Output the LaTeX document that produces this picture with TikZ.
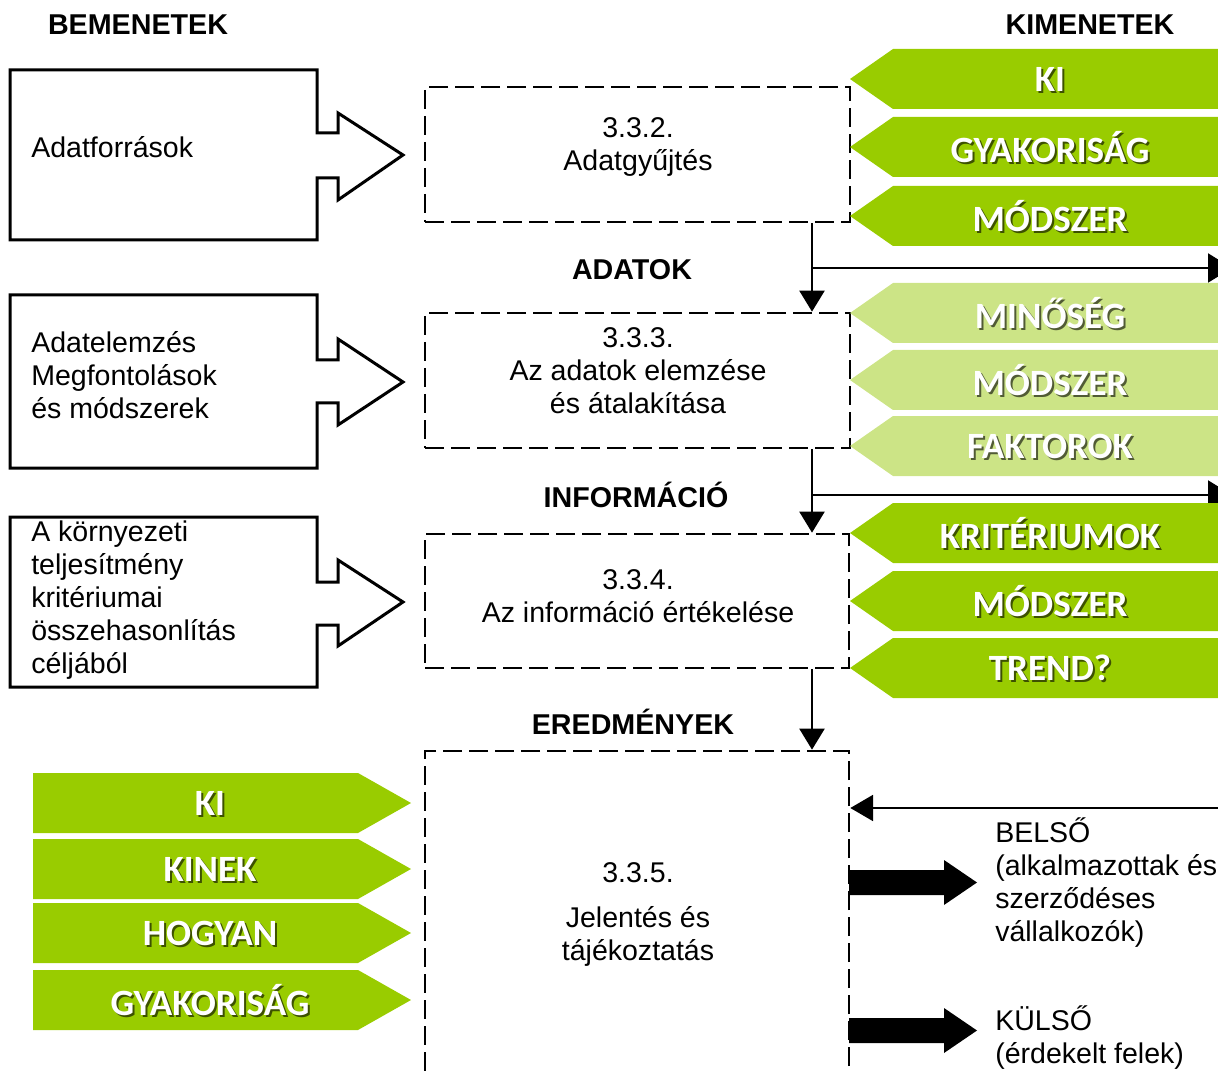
\documentclass[tikz,border=0pt]{standalone}
\usepackage{fontspec}
\setmainfont{Liberation Sans}
\newfontfamily\tagfont{Carlito}
\usetikzlibrary{fit,arrows.meta}
\definecolor{tagdark}{RGB}{153,204,0}
\definecolor{taglight}{RGB}{204,228,134}
\newcommand\rtag[4]{%
  \fill[#3] (850,{#2+30}) -- (893,#2) -- (1240,#2) -- (1240,{#2+60}) -- (893,{#2+60}) -- cycle;
  \node[tagshadow] (#1s) at (1052,{#2+32}) {#4};
  \node[tagtext] (#1) at (1050,{#2+30}) {#4};
}
\newcommand\ltag[3]{%
  \fill[tagdark] (33,#2) -- (358,#2) -- (411,{#2+30}) -- (358,{#2+60}) -- (33,{#2+60}) -- cycle;
  \node[tagshadow] (#1s) at (212,{#2+32}) {#3};
  \node[tagtext] (#1) at (210,{#2+30}) {#3};
}
\begin{document}
\begin{tikzpicture}[x=0.75pt,y=-0.75pt,line join=miter,
  body/.style={font=\fontsize{21.4}{24.75}\selectfont, inner sep=0pt},
  head/.style={font=\bfseries\fontsize{21.5}{25}\selectfont, inner sep=0pt},
  inshape/.style={draw, line width=2.25pt},
  dashbox/.style={draw, line width=2pt, dash pattern=on 14pt off 5.5pt, inner sep=0pt},
  conn/.style={line width=1.7pt, -{Triangle[width=18.75pt,length=15.75pt]}},
  branch/.style={line width=1.6pt, -{Triangle[width=21.75pt,length=18pt]}},
  fback/.style={line width=1.2pt, -{Triangle[width=19.5pt,length=17pt]}},
  tagtext/.style={font=\tagfont\bfseries\fontsize{27.8}{32}\selectfont, text=white, inner sep=0pt},
  tagshadow/.style={font=\tagfont\bfseries\fontsize{27.8}{32}\selectfont, text=black, opacity=0.6, inner sep=0pt}]
\useasboundingbox (0,0) rectangle (1218,1073);

% headings
\node[head] (hin) at (138,25) {BEMENETEK};
\node[head] (hout) at (1090,25) {KIMENETEK};
\node[head] (hadat) at (632,270) {ADATOK};
\node[head] (hinfo) at (636,495) {INFORMÁCIÓ};
\node[head] (hered) at (633,722) {EREDMÉNYEK};

% input shapes
\draw[inshape] (10,70) -- (317,70) -- (317,133) -- (338,133) -- (338,113) -- (403,155) -- (338,200) -- (338,178) -- (317,178) -- (317,240) -- (10,240) -- cycle;
\draw[inshape] (10,295) -- (317,295) -- (317,360) -- (338,360) -- (338,339) -- (403,382) -- (338,425) -- (338,403) -- (317,403) -- (317,468) -- (10,468) -- cycle;
\draw[inshape] (10,517) -- (317,517) -- (317,582) -- (338,582) -- (338,560) -- (403,602) -- (338,646) -- (338,625) -- (317,625) -- (317,687) -- (10,687) -- cycle;
\node[body, anchor=west, align=left] (in1) at (31,147) {Adatforrások};
\node[body, anchor=west, align=left] (in2) at (31,375) {Adatelemzés\\Megfontolások\\és módszerek};
\node[body, anchor=west, align=left] (in3) at (31,600) {A környezeti\\teljesítmény\\kritériumai\\összehasonlítás\\céljából};

% process boxes
\node[dashbox, fit={(425,87)(850,222)}] (p1) {};
\node[dashbox, fit={(425,313)(850,448)}] (p2) {};
\node[dashbox, fit={(425,534)(849,668)}] (p3) {};
\node[dashbox, fit={(425,751)(849,1110)}] (p4) {};
\node[body, align=center] (t1) at (638,147) {3.3.2.\\Adatgyűjtés};
\node[body, align=center] (t2) at (638,371) {3.3.3.\\Az adatok elemzése\\és átalakítása};
\node[body, align=center] (t3) at (638,596) {3.3.4.\\Az információ értékelése};
\node[body, align=center] (t4) at (638,914) {3.3.5.\\[9pt]Jelentés és\\tájékoztatás};

% connectors
\coordinate (cx) at (812,0);
\draw[conn] (p1.south -| cx) -- (p2.north -| cx);
\draw[conn] (p2.south -| cx) -- (p3.north -| cx);
\draw[conn] (p3.south -| cx) -- (p4.north -| cx);
\coordinate (br1) at (812,268);
\coordinate (br1e) at (1232,268);
\coordinate (br2) at (812,495);
\coordinate (br2e) at (1232,495);
\draw[branch] (br1) -- (br1e);
\draw[branch] (br2) -- (br2e);

% output tags
\rtag{o1}{49}{tagdark}{KI}
\rtag{o2}{117}{tagdark}{GYAKORISÁG}
\rtag{o3}{186}{tagdark}{MÓDSZER}
\rtag{o4}{283}{taglight}{MINŐSÉG}
\rtag{o5}{350}{taglight}{MÓDSZER}
\rtag{o6}{416}{taglight}{FAKTOROK}
\rtag{o7}{503}{tagdark}{KRITÉRIUMOK}
\rtag{o8}{571}{tagdark}{MÓDSZER}
\rtag{o9}{638}{tagdark}{TREND?}

% left tags
\ltag{l1}{773}{KI}
\ltag{l2}{839}{KINEK}
\ltag{l3}{903}{HOGYAN}
\ltag{l4}{970}{GYAKORISÁG}

% feedback and reports
\coordinate (fbs) at (1230,808);
\draw[fback] (fbs) -- (p4.east |- fbs);
\fill (849,870) -- (944,870) -- (944,860) -- (977,882.5) -- (944,905) -- (944,895) -- (849,895) -- cycle;
\fill (849,1018) -- (944,1018) -- (944,1008) -- (977,1030.5) -- (944,1053) -- (944,1043) -- (849,1043) -- cycle;
\node[body, anchor=west, align=left] (belso) at (995,882.5) {BELSŐ\\(alkalmazottak és\\szerződéses\\vállalkozók)};
\node[body, anchor=west, align=left] (kulso) at (995,1037.5) {KÜLSŐ\\(érdekelt felek)};
\end{tikzpicture}
\end{document}
